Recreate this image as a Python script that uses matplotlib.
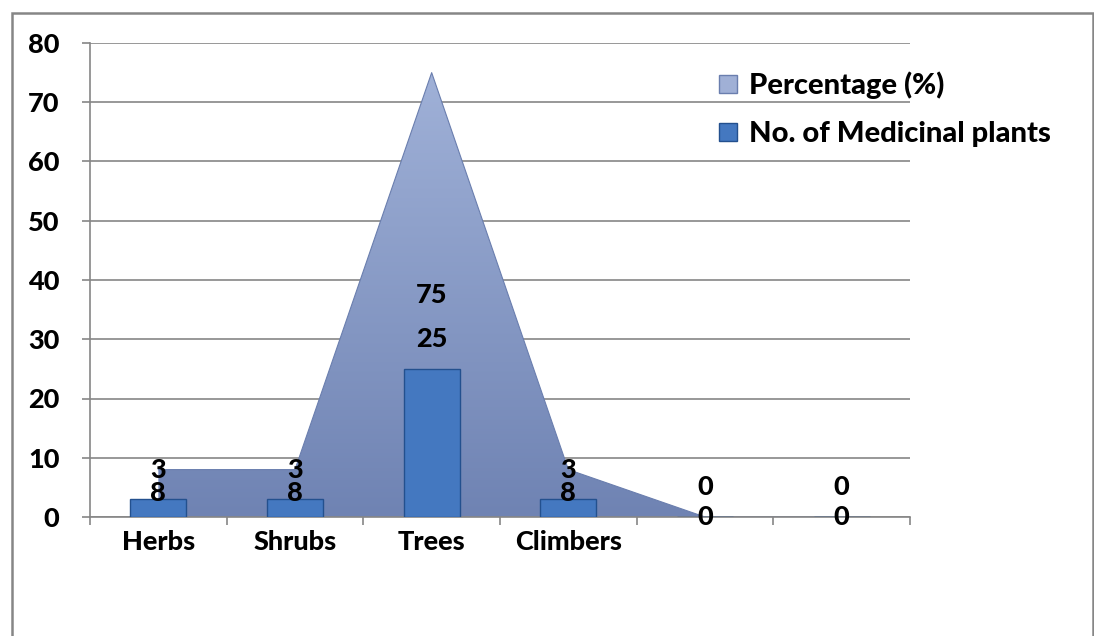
import matplotlib as mpl
mpl.use('Agg')
import matplotlib.pyplot as plt
import numpy as np
from matplotlib.lines import Line2D
from matplotlib.patches import Rectangle

plt.rc('font', family=['Lato', 'DejaVu Sans'], weight=900, size=19.5)

categories = ["Herbs", "Shrubs", "Trees", "Climbers", "", ""]
percentage = [8, 8, 75, 8, 0, 0]
plants = [3, 3, 25, 3, 0, 0]

grey = '#868686'
area_top = '#a3b4da'
area_bot = '#6f83b3'
bar_col = '#4478c0'
bar_edge = '#23508e'

fig = plt.figure(figsize=(10.94, 6.36), dpi=100)
ax = fig.add_axes([90 / 1094, 119 / 636, 820 / 1094, 474 / 636])

x = np.arange(len(categories))

# area with a vertical gradient, clipped to the filled polygon
poly = ax.fill_between(x, percentage, 0, color='none', linewidth=0, zorder=2)
grad = np.linspace(1, 0, 256).reshape(-1, 1)
cmap = mpl.colors.LinearSegmentedColormap.from_list('g', [area_bot, area_top])
img = ax.imshow(grad, cmap=cmap, aspect='auto', extent=[-0.5, 5.5, 0, 80],
                zorder=2, interpolation='bicubic')
img.set_clip_path(poly.get_paths()[0], transform=ax.transData)
ax.plot(x, percentage, color='#6a7eae', linewidth=0.8, zorder=2.5)

ax.bar(x, plants, width=0.41, color=bar_col, edgecolor=bar_edge,
       linewidth=1.0, zorder=3)

# value labels
for xi, p, n in zip(x, percentage, plants):
    ax.text(xi, n + 5, str(n), ha='center', va='center', zorder=5)
    ax.text(xi, p / 2, str(p), ha='center', va='center', zorder=5)

ax.set_xlim(-0.5, 5.5)
ax.set_ylim(0, 80)
ax.set_yticks(range(0, 81, 10))
ax.yaxis.grid(True, color=grey, linewidth=1.2, zorder=0)
ax.set_axisbelow(True)

ax.set_xticks(np.arange(-0.5, 6, 1))
ax.set_xticklabels([])
ax.set_xticks(x, minor=True)
ax.set_xticklabels(categories, minor=True)
ax.tick_params(axis='x', which='major', length=6, width=1.2, color=grey, direction='out')
ax.tick_params(axis='x', which='minor', length=0, pad=9)
ax.tick_params(axis='y', length=6, width=1.2, color=grey, pad=16)

for side in ['top', 'right']:
    ax.spines[side].set_visible(False)
ax.spines['left'].set_color(grey)
ax.spines['bottom'].set_color(grey)
ax.spines['left'].set_linewidth(1.2)
ax.spines['bottom'].set_linewidth(1.2)

handles = [
    Line2D([], [], marker='s', linestyle='none', markersize=13,
           markerfacecolor='#a0b0d6', markeredgecolor='#6a7eae'),
    Line2D([], [], marker='s', linestyle='none', markersize=13,
           markerfacecolor=bar_col, markeredgecolor=bar_edge),
]
fig.legend(handles, ["Percentage (%)", "No. of Medicinal plants"],
           loc='upper left', bbox_to_anchor=(702 / 1094, 1 - 60 / 636),
           frameon=False, handletextpad=0.2, handlelength=1.0,
           labelspacing=0.75, borderaxespad=0, prop={'size': 21, 'weight': 900})

fig.patches.append(Rectangle((12 / 1094, -0.1), 1081 / 1094, 1.1 - 13 / 636,
                             transform=fig.transFigure, fill=False,
                             edgecolor=grey, linewidth=1.8))

fig.savefig('out.png', dpi=100)
